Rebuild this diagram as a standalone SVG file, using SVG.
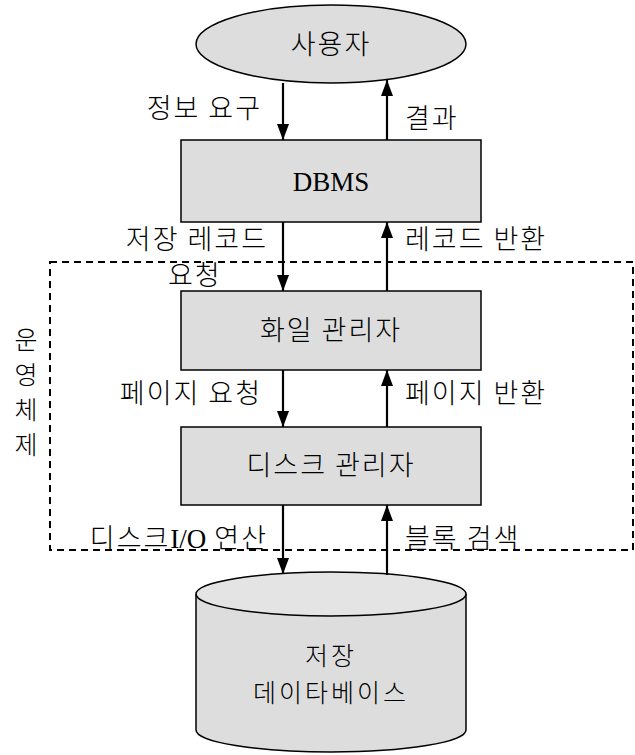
<svg xmlns="http://www.w3.org/2000/svg" width="635" height="755" viewBox="0 0 635 755">
<defs>
<marker id="ah" markerWidth="16" markerHeight="12" refX="16" refY="6" orient="auto-start-reverse" markerUnits="userSpaceOnUse" viewBox="0 0 16 12">
<path d="M0,0 L16,6 L0,12 Z" fill="#000"/>
</marker>
<style>
.box{fill:#DDDDDD;stroke:#000;stroke-width:1.5}
.kr{font-family:"Noto Sans CJK KR","Noto Sans",sans-serif;font-size:27px;font-weight:300;fill:#000;letter-spacing:2px}
.vt{font-size:25px}
.cy{font-size:25px;letter-spacing:3px}
.lt{font-family:"Liberation Serif",serif;font-size:27px;fill:#000;letter-spacing:0}
.c{text-anchor:middle}
.e{text-anchor:end}
.ln{stroke:#000;stroke-width:2.2;fill:none}
</style>
</defs>
<rect width="635" height="755" fill="#fff"/>
<g id="os">
<rect x="50" y="262" width="583" height="288" fill="none" stroke="#000" stroke-width="2" stroke-dasharray="7,5"/>
<text class="kr vt c" x="27" y="349">운</text>
<text class="kr vt c" x="27" y="384">영</text>
<text class="kr vt c" x="27" y="419">체</text>
<text class="kr vt c" x="27" y="454">제</text>
</g>
<g id="user">
<ellipse cx="331" cy="44" rx="135" ry="39" class="box"/>
<text class="kr c" x="331" y="54">사용자</text>
</g>
<g id="dbms">
<rect x="181" y="140" width="300" height="82" class="box"/>
<text class="lt c" x="331" y="191">DBMS</text>
</g>
<g id="filemgr">
<rect x="181" y="291" width="300" height="79" class="box"/>
<text class="kr c" x="331" y="340">화일 관리자</text>
</g>
<g id="diskmgr">
<rect x="181" y="427" width="300" height="78" class="box"/>
<text class="kr c" x="331" y="475">디스크 관리자</text>
</g>
<g id="db">
<path d="M196,594 L196,730 A135,22 0 0 0 466,730 L466,594" class="box"/>
<ellipse cx="331" cy="594" rx="135" ry="22" fill="#E4E4E4" stroke="#000" stroke-width="1.5"/>
<text class="kr cy c" x="331" y="665">저장</text>
<text class="kr cy c" x="331" y="702">데이타베이스</text>
</g>
<g id="connectors">
<line class="ln" x1="283" y1="83" x2="283" y2="140" marker-end="url(#ah)"/>
<line class="ln" x1="387" y1="140" x2="387" y2="80" marker-end="url(#ah)"/>
<line class="ln" x1="283" y1="222" x2="283" y2="291" marker-end="url(#ah)"/>
<line class="ln" x1="387" y1="291" x2="387" y2="222" marker-end="url(#ah)"/>
<line class="ln" x1="283" y1="370" x2="283" y2="427" marker-end="url(#ah)"/>
<line class="ln" x1="387" y1="427" x2="387" y2="370" marker-end="url(#ah)"/>
<line class="ln" x1="283" y1="505" x2="283" y2="574" marker-end="url(#ah)"/>
<line class="ln" x1="387" y1="575" x2="387" y2="505" marker-end="url(#ah)"/>
</g>
<g id="labels">
<text class="kr e" x="262" y="118">정보 요구</text>
<text class="kr" x="405" y="128">결과</text>
<text class="kr e" x="268" y="249">저장 레코드</text>
<text class="kr" x="168" y="285">요청</text>
<text class="kr" x="405" y="249">레코드 반환</text>
<text class="kr e" x="262" y="403">페이지 요청</text>
<text class="kr" x="405" y="403">페이지 반환</text>
<text class="kr e" x="268" y="548">디스크<tspan class="lt">I/O</tspan> 연산</text>
<text class="kr" x="405" y="548">블록 검색</text>
</g>
</svg>
